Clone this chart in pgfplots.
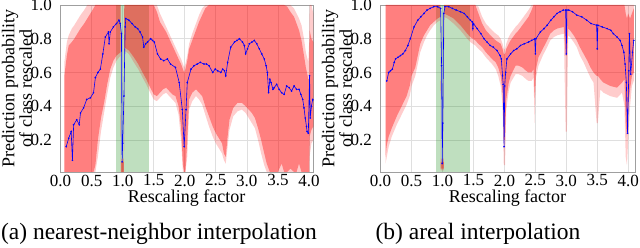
\documentclass[border=0pt]{standalone}
\usepackage{fontspec}
\setmainfont{Liberation Serif}
\usepackage{pgfplots}
\usepackage{pgfplotstable}
\pgfplotsset{compat=1.18}
\usepgfplotslibrary{fillbetween}

\pgfplotstableread{
x lo hi lo2 hi2
0.06 0.01 0.58 0.01 0.66
0.08 0.01 0.64 0.01 0.72
0.10 0.01 0.70 0.01 0.78
0.13 0.01 0.76 0.01 0.82
0.18 0.01 0.78 0.01 0.86
0.22 0.01 0.80 0.01 0.88
0.27 0.01 0.83 0.01 0.91
0.32 0.01 0.86 0.01 0.94
0.38 0.01 0.89 0.01 0.97
0.43 0.01 0.92 0.01 1.00
0.48 0.01 0.95 0.01 1.00
0.53 0.01 0.98 0.01 1.00
0.56 0.05 1.00 0.01 1.00
0.60 0.20 1.00 0.10 1.00
0.65 0.33 1.00 0.25 1.00
0.70 0.42 1.00 0.36 1.00
0.75 0.53 1.00 0.47 1.00
0.80 0.62 1.00 0.57 1.00
0.85 0.67 1.00 0.63 1.00
0.90 0.70 1.00 0.67 1.00
0.965 0.72 1.00 0.70 1.00
0.97 0.01 0.07 0.01 0.09
1.02 0.01 0.07 0.01 0.09
1.025 0.75 1.00 0.73 1.00
1.10 0.73 1.00 0.71 1.00
1.18 0.69 1.00 0.66 1.00
1.25 0.65 1.00 0.62 1.00
1.32 0.60 1.00 0.57 1.00
1.38 0.56 1.00 0.53 1.00
1.43 0.52 1.00 0.49 1.00
1.50 0.47 1.00 0.44 1.00
1.55 0.46 0.96 0.43 1.00
1.60 0.48 0.90 0.45 0.95
1.65 0.50 0.87 0.47 0.91
1.70 0.51 0.84 0.48 0.87
1.75 0.49 0.80 0.46 0.83
1.80 0.47 0.76 0.44 0.79
1.85 0.46 0.72 0.42 0.75
1.90 0.40 0.68 0.35 0.71
1.94 0.28 0.65 0.20 0.68
1.97 0.05 0.62 0.01 0.65
1.99 0.01 0.60 0.01 0.63
2.01 0.01 0.62 0.01 0.65
2.04 0.20 0.67 0.10 0.70
2.07 0.44 0.74 0.38 0.77
2.12 0.48 0.79 0.43 0.83
2.18 0.50 0.85 0.46 0.89
2.23 0.48 0.90 0.44 0.94
2.28 0.46 0.94 0.41 0.98
2.33 0.40 0.98 0.35 1.00
2.39 0.34 1.00 0.28 1.00
2.45 0.28 1.00 0.22 1.00
2.50 0.24 1.00 0.18 1.00
2.55 0.21 1.00 0.15 1.00
2.60 0.18 1.00 0.12 1.00
2.63 0.12 1.00 0.08 1.00
2.66 0.10 1.00 0.06 1.00
2.69 0.22 1.00 0.16 1.00
2.72 0.32 1.00 0.26 1.00
2.78 0.39 1.00 0.34 1.00
2.85 0.42 1.00 0.37 1.00
2.92 0.42 1.00 0.38 1.00
2.98 0.40 1.00 0.36 1.00
3.03 0.38 1.00 0.33 1.00
3.08 0.36 1.00 0.30 1.00
3.13 0.33 1.00 0.27 1.00
3.18 0.27 1.00 0.20 1.00
3.23 0.20 1.00 0.12 1.00
3.28 0.12 1.00 0.05 1.00
3.32 0.06 1.00 0.01 1.00
3.37 0.01 1.00 0.01 1.00
3.50 0.01 1.00 0.01 1.00
3.56 0.06 1.00 0.01 1.00
3.60 0.01 1.00 0.01 1.00
3.65 0.01 0.99 0.01 1.00
3.70 0.03 0.96 0.01 1.00
3.76 0.01 0.93 0.01 0.98
3.80 0.01 0.89 0.01 0.95
3.84 0.06 0.85 0.01 0.92
3.88 0.01 0.79 0.01 0.88
3.92 0.01 0.70 0.01 0.80
3.95 0.01 0.63 0.01 0.72
3.99 0.01 0.56 0.01 0.66
4.005 0.01 0.56 0.01 0.80
4.01 0.22 0.85 0.10 1.00
4.04 0.26 0.80 0.18 1.00
4.07 0.28 0.78 0.20 0.95
}\bandA

\pgfplotstableread{
x lo hi lo2 hi2
0.08 0.10 1.00 0.06 1.00
0.10 0.17 1.00 0.10 1.00
0.13 0.22 1.00 0.16 1.00
0.18 0.27 1.00 0.22 1.00
0.26 0.34 1.00 0.29 1.00
0.34 0.40 1.00 0.35 1.00
0.42 0.46 1.00 0.41 1.00
0.47 0.52 1.00 0.46 1.00
0.50 0.58 1.00 0.52 1.00
0.56 0.63 1.00 0.58 1.00
0.60 0.70 1.00 0.65 1.00
0.64 0.77 1.00 0.72 1.00
0.70 0.82 1.00 0.78 1.00
0.75 0.85 1.00 0.82 1.00
0.80 0.88 1.00 0.85 1.00
0.86 0.90 1.00 0.88 1.00
0.92 0.92 1.00 0.90 1.00
0.965 0.93 1.00 0.91 1.00
0.97 0.03 0.07 0.02 0.09
1.02 0.03 0.07 0.02 0.09
1.025 0.95 1.00 0.93 1.00
1.08 0.94 1.00 0.92 1.00
1.18 0.92 1.00 0.89 1.00
1.29 0.88 1.00 0.85 1.00
1.40 0.83 1.00 0.80 1.00
1.45 0.81 1.00 0.78 1.00
1.53 0.79 1.00 0.76 1.00
1.58 0.77 0.95 0.74 0.99
1.64 0.75 0.89 0.72 0.93
1.70 0.72 0.85 0.69 0.89
1.75 0.70 0.83 0.67 0.87
1.80 0.68 0.81 0.65 0.85
1.86 0.66 0.79 0.62 0.83
1.90 0.63 0.78 0.58 0.82
1.94 0.58 0.77 0.52 0.80
1.97 0.48 0.74 0.40 0.77
1.99 0.20 0.71 0.05 0.74
2.01 0.20 0.71 0.05 0.74
2.03 0.44 0.74 0.38 0.77
2.07 0.54 0.77 0.49 0.81
2.10 0.58 0.79 0.54 0.83
2.18 0.64 0.83 0.59 0.87
2.23 0.64 0.85 0.59 0.89
2.29 0.63 0.88 0.58 0.92
2.35 0.61 0.91 0.56 0.95
2.39 0.60 0.93 0.55 0.97
2.44 0.60 0.97 0.55 1.00
2.47 0.62 1.00 0.57 1.00
2.49 0.45 1.00 0.30 1.00
2.51 0.62 1.00 0.57 1.00
2.55 0.69 1.00 0.64 1.00
2.62 0.74 1.00 0.70 1.00
2.69 0.79 1.00 0.75 1.00
2.74 0.83 1.00 0.79 1.00
2.80 0.85 1.00 0.81 1.00
2.85 0.86 1.00 0.82 1.00
2.96 0.87 1.00 0.83 1.00
2.99 0.70 1.00 0.25 1.00
3.01 0.70 1.00 0.25 1.00
3.03 0.86 1.00 0.82 1.00
3.06 0.85 1.00 0.81 1.00
3.12 0.82 1.00 0.78 1.00
3.17 0.79 1.00 0.75 1.00
3.22 0.75 1.00 0.70 1.00
3.28 0.71 1.00 0.66 1.00
3.34 0.67 1.00 0.61 1.00
3.39 0.63 1.00 0.57 1.00
3.44 0.60 1.00 0.54 1.00
3.49 0.58 1.00 0.30 1.00
3.51 0.58 1.00 0.30 1.00
3.55 0.56 1.00 0.50 1.00
3.60 0.54 1.00 0.48 1.00
3.71 0.52 1.00 0.46 1.00
3.82 0.51 1.00 0.45 1.00
3.90 0.54 1.00 0.48 1.00
3.94 0.56 1.00 0.40 1.00
3.96 0.30 0.95 0.10 1.00
3.98 0.22 0.92 0.05 1.00
4.00 0.40 0.95 0.20 1.00
4.03 0.50 0.92 0.40 1.00
4.06 0.58 0.95 0.52 1.00
4.09 0.60 0.98 0.55 1.00
}\bandB

\pgfplotstableread{
x y
0.09 0.16
0.13 0.21
0.17 0.25
0.19 0.08
0.21 0.29
0.26 0.32
0.30 0.29
0.32 0.36
0.37 0.39
0.42 0.44
0.48 0.45
0.53 0.48
0.56 0.57
0.60 0.60
0.64 0.62
0.68 0.71
0.72 0.81
0.77 0.84
0.78 0.77
0.80 0.84
0.85 0.87
0.90 0.89
0.94 0.91
0.96 0.89
0.98 0.83
0.99 0.07
1.00 0.18
1.02 0.46
1.04 0.87
1.05 0.92
1.10 0.91
1.15 0.89
1.20 0.87
1.24 0.86
1.28 0.84
1.32 0.81
1.34 0.75
1.37 0.77
1.40 0.78
1.45 0.80
1.48 0.79
1.51 0.78
1.56 0.71
1.61 0.68
1.66 0.67
1.72 0.68
1.77 0.65
1.85 0.63
1.91 0.54
1.96 0.38
1.99 0.16
2.02 0.38
2.04 0.54
2.10 0.62
2.15 0.64
2.20 0.65
2.25 0.66
2.31 0.65
2.35 0.65
2.39 0.64
2.45 0.60
2.49 0.62
2.53 0.61
2.58 0.60
2.61 0.62
2.64 0.61
2.66 0.58
2.69 0.66
2.74 0.75
2.80 0.78
2.84 0.79
2.88 0.80
2.93 0.78
2.96 0.76
2.98 0.71
3.01 0.74
3.04 0.77
3.08 0.78
3.12 0.79
3.16 0.77
3.20 0.74
3.24 0.71
3.28 0.68
3.31 0.64
3.33 0.60
3.35 0.48
3.37 0.56
3.39 0.54
3.42 0.50
3.44 0.51
3.48 0.53
3.52 0.50
3.56 0.48
3.60 0.47
3.64 0.52
3.68 0.51
3.72 0.49
3.76 0.52
3.80 0.50
3.84 0.50
3.87 0.47
3.90 0.44
3.92 0.39
3.94 0.33
3.96 0.28
3.97 0.25
3.99 0.24
4.01 0.58
4.02 0.33
4.04 0.40
4.06 0.44
4.08 0.43
}\lineA

\pgfplotstableread{
x y
0.10 0.55
0.13 0.60
0.16 0.61
0.19 0.62
0.22 0.66
0.24 0.68
0.28 0.69
0.32 0.70
0.36 0.71
0.40 0.73
0.44 0.76
0.48 0.80
0.54 0.87
0.60 0.91
0.65 0.93
0.70 0.95
0.75 0.97
0.80 0.98
0.86 0.99
0.92 0.99
0.97 0.98
0.985 0.64
0.995 0.06
1.005 0.30
1.02 0.95
1.04 0.99
1.10 0.99
1.16 0.98
1.22 0.97
1.29 0.96
1.35 0.95
1.40 0.93
1.45 0.91
1.48 0.90
1.49 0.86
1.50 0.89
1.56 0.86
1.62 0.83
1.67 0.80
1.72 0.78
1.77 0.76
1.82 0.75
1.88 0.73
1.93 0.70
1.95 0.68
1.97 0.58
1.98 0.53
1.995 0.16
2.005 0.52
2.02 0.60
2.04 0.68
2.10 0.71
2.15 0.73
2.20 0.74
2.26 0.76
2.32 0.77
2.39 0.78
2.44 0.79
2.49 0.80
2.50 0.71
2.51 0.80
2.58 0.84
2.64 0.86
2.69 0.88
2.75 0.91
2.80 0.93
2.85 0.95
2.90 0.96
2.95 0.97
2.99 0.97
3.00 0.71
3.01 0.97
3.04 0.97
3.10 0.96
3.17 0.94
3.25 0.93
3.33 0.91
3.40 0.89
3.49 0.88
3.50 0.74
3.51 0.88
3.58 0.87
3.66 0.86
3.72 0.85
3.76 0.83
3.82 0.81
3.87 0.79
3.90 0.76
3.93 0.72
3.95 0.65
3.97 0.54
3.99 0.24
4.01 0.61
4.02 0.83
4.04 0.59
4.07 0.72
4.09 0.79
}\lineB

\pgfplotstableread{
x top bot
0.89 1.0 0.01
1.43 1.0 0.01
}\greenA

\pgfplotstableread{
x top bot
0.89 1.0 0.01
1.45 1.0 0.01
}\greenB

\pgfplotsset{
  panel/.style={
    scale only axis, height=167pt,
    ymin=0.01, ymax=1.0,
    xtick={0,0.5,1,1.5,2,2.5,3,3.5,4},
    ytick={0.2,0.4,0.6,0.8,1.0},
    /pgf/number format/assume math mode=true,
    xticklabel style={/pgf/number format/fixed, /pgf/number format/fixed zerofill, /pgf/number format/precision=1, inner sep=0pt, anchor=north, yshift=-2.5pt},
    yticklabel style={/pgf/number format/fixed, /pgf/number format/fixed zerofill, /pgf/number format/precision=1, inner sep=0pt, anchor=east, xshift=-8pt},
    tick label style={font=\fontsize{17}{17}\selectfont},
    major tick length=0pt,
    grid=major, grid style={gray!25, line width=0.7pt},
    axis line style={gray!75, line width=0.8pt},
  },
  band/.style={draw=none, forget plot},
  bluel/.style={blue, line width=0.6pt, mark=*, mark size=0.5pt, forget plot},
}

\begin{document}
\begin{tikzpicture}

\begin{axis}[panel, name=A, at={(0,0)}, anchor=south west, width=253.3pt, xmin=-0.01, xmax=4.07]
\addplot[band, name path=gat] table[x=x, y=top] {\greenA};
\addplot[band, name path=gab] table[x=x, y=bot] {\greenA};
\addplot[fill=green!50!black, fill opacity=0.25, draw=none, forget plot] fill between[of=gat and gab];
\addplot[band, name path=a2h] table[x=x, y=hi2] {\bandA};
\addplot[band, name path=a2l] table[x=x, y=lo2] {\bandA};
\addplot[fill=red, fill opacity=0.2, draw=none, forget plot] fill between[of=a2h and a2l];
\addplot[band, name path=ah] table[x=x, y=hi] {\bandA};
\addplot[band, name path=al] table[x=x, y=lo] {\bandA};
\addplot[fill=red, fill opacity=0.375, draw=none, forget plot] fill between[of=ah and al];
\addplot[bluel] table[x=x, y=y] {\lineA};
\end{axis}
\node[inner sep=0pt, xshift=-43pt, rotate=90, align=center, font=\fontsize{18}{16}\selectfont] at (A.west) {Prediction probability\\of class rescaled};
\node[inner sep=0pt, anchor=base, font=\fontsize{18}{18}\selectfont] at ([yshift=-31pt]A.south) {Rescaling factor};
\node[inner sep=0pt, anchor=base, font=\fontsize{23.5}{26}\selectfont] at (99pt,-68pt) {(a) nearest-neighbor interpolation};

\begin{axis}[panel, name=B, at={(320pt,0)}, anchor=south west, width=255pt, xmin=-0.01, xmax=4.11]
\addplot[band, name path=gbt] table[x=x, y=top] {\greenB};
\addplot[band, name path=gbb] table[x=x, y=bot] {\greenB};
\addplot[fill=green!50!black, fill opacity=0.25, draw=none, forget plot] fill between[of=gbt and gbb];
\addplot[band, name path=b2h] table[x=x, y=hi2] {\bandB};
\addplot[band, name path=b2l] table[x=x, y=lo2] {\bandB};
\addplot[fill=red, fill opacity=0.2, draw=none, forget plot] fill between[of=b2h and b2l];
\addplot[band, name path=bh] table[x=x, y=hi] {\bandB};
\addplot[band, name path=bl] table[x=x, y=lo] {\bandB};
\addplot[fill=red, fill opacity=0.375, draw=none, forget plot] fill between[of=bh and bl];
\addplot[bluel] table[x=x, y=y] {\lineB};
\end{axis}
\node[inner sep=0pt, xshift=-43pt, rotate=90, align=center, font=\fontsize{18}{16}\selectfont] at (B.west) {Prediction probability\\of class rescaled};
\node[inner sep=0pt, anchor=base, font=\fontsize{18}{18}\selectfont] at ([yshift=-31pt]B.south) {Rescaling factor};
\node[inner sep=0pt, anchor=base, font=\fontsize{23.5}{26}\selectfont] at (418pt,-68pt) {(b) areal interpolation};

\pgfresetboundingbox
\path[use as bounding box] (-60pt,-76pt) rectangle (580pt,172pt);
\end{tikzpicture}
\end{document}
